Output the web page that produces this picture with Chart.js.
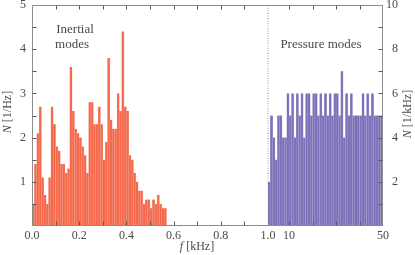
<!DOCTYPE html>
<html>
<head>
<meta charset="utf-8">
<script src="https://cdn.jsdelivr.net/npm/chart.js@4.4.0/dist/chart.umd.min.js"></script>
<style>
  html, body { margin: 0; padding: 0; background: #fff; }
  #wrap { position: relative; width: 415px; height: 255px; }
  #wrap canvas { position: absolute; left: 0; top: 0; }
</style>
</head>
<body>
<div id="wrap">
  <canvas id="inertial" width="415" height="255"></canvas>
  <canvas id="pressure" width="415" height="255"></canvas>
</div>
<script>
// inertial modes: N [1/Hz] in 0.01 kHz bins from 0 kHz
const inertialStart = 0;
const inertialWidth = 0.01;
const inertialN = [
  0.5, 1.4, 2.1, 2.7, 1.1, 0.7, 0.5, 1.1, 2.7, 2.3,
  1.8, 1.7, 1.4, 1.4, 1.2, 1.3, 3.6, 2.6, 2.2, 2.1,
  2.0, 1.8, 1.6, 1.2, 2.8, 2.8, 2.3, 2.3, 2.7, 2.3,
  1.5, 1.9, 3.8, 2.4, 2.2, 2.2, 3.0, 2.6, 4.4, 2.7,
  2.6, 1.6, 1.5, 1.2, 1.0, 0.8, 0.8, 0.5, 0.6, 0.6,
  0.4, 0.6, 0.5, 0.7, 0.5, 0.4, 0.4
];

// pressure modes: N [1/kHz] in 1 kHz bins from 1 kHz
const pressureStart = 1;
const pressureWidth = 1;
const pressureN = [
  2, 5, 4, 3, 5, 5, 4, 4, 6, 5,
  6, 4, 6, 5, 6, 4, 6, 6, 5, 6,
  6, 5, 6, 5, 6, 5, 6, 5, 6, 6,
  5, 7, 4, 6, 5, 6, 5, 5, 5, 5,
  6, 5, 6, 5, 6, 5, 5, 5, 5
];

// axis ticks and labels
const leftXTicks = [0, 0.1, 0.2, 0.3, 0.4, 0.5, 0.6, 0.7, 0.8, 0.9, 1.0];
const leftXLabels = ['0.0', '', '0.2', '', '0.4', '', '0.6', '', '0.8', '', '1.0'];
const leftYTicks = [0, 0.5, 1, 1.5, 2, 2.5, 3, 3.5, 4, 4.5, 5];
const leftYLabels = ['', '', '1', '', '2', '', '3', '', '4', '', '5'];
const rightXTicks = [10, 20, 30, 40, 50];
const rightXLabels = ['10', '', '', '', '50'];
const rightYTicks = [0, 1, 2, 3, 4, 5, 6, 7, 8, 9, 10];
const rightYLabels = ['', '', '2', '', '4', '', '6', '', '8', '', '10'];

const SERIF = '"Liberation Serif", "DejaVu Serif", serif';
const AXIS = '#8c8c8c';
const TICK = '#5a5a5a';
const TEXT = '#4a4a4a';

function fixTicks(values) {
  return scale => { scale.ticks = values.map(v => ({ value: v })); };
}
function fixSize(prop, size) {
  return scale => {
    scale[prop] = size;
    scale.paddingTop = 0; scale.paddingBottom = 0;
    scale.paddingLeft = 0; scale.paddingRight = 0;
  };
}

// draws a string made of plain and italic parts, centred on (x, y)
function drawParts(ctx, parts, x, y, rot) {
  ctx.save();
  ctx.translate(x, y);
  ctx.rotate(rot || 0);
  ctx.textBaseline = 'middle';
  ctx.fillStyle = TEXT;
  let total = 0;
  parts.forEach(p => {
    ctx.font = (p.it ? 'italic ' : '') + p.size + 'px ' + SERIF;
    total += ctx.measureText(p.t).width;
  });
  let cx = -total / 2;
  parts.forEach(p => {
    ctx.font = (p.it ? 'italic ' : '') + p.size + 'px ' + SERIF;
    ctx.textAlign = 'left';
    ctx.fillText(p.t, cx, 0);
    cx += ctx.measureText(p.t).width;
  });
  ctx.restore();
}

// frame, inward tick marks, titles and notes
const decor = {
  id: 'decor',
  afterDatasetsDraw(chart, args, o) {
    const { ctx, chartArea: a } = chart;
    const xs = chart.scales.x, ys = chart.scales.y;
    const L = Math.round(a.left) + 0.5, R = Math.round(a.right) - 0.5;
    const T = Math.round(a.top) + 0.5, B = Math.round(a.bottom) - 0.5;
    ctx.save();
    ctx.lineWidth = 1;
    ctx.strokeStyle = AXIS;
    ctx.beginPath();
    ctx.moveTo(o.leftEdge ? L : L - 0.5, T); ctx.lineTo(R + 0.5, T);
    ctx.moveTo(o.leftEdge ? L : L - 0.5, B); ctx.lineTo(R + 0.5, B);
    if (o.leftEdge) { ctx.moveTo(L, T); ctx.lineTo(L, B); }
    if (o.rightEdge) { ctx.moveTo(R, T); ctx.lineTo(R, B); }
    ctx.stroke();
    if (o.dotted) {
      ctx.setLineDash([1, 1.5]);
      ctx.strokeStyle = '#9a9a9a';
      ctx.beginPath();
      ctx.moveTo(R + 0.5, T); ctx.lineTo(R + 0.5, B);
      ctx.stroke();
      ctx.setLineDash([]);
    }
    ctx.strokeStyle = TICK;
    ctx.beginPath();
    xs.ticks.forEach(t => {
      if (t.value <= xs.min || t.value >= xs.max) return;
      const px = Math.round(xs.getPixelForValue(t.value)) + 0.5;
      ctx.moveTo(px, B); ctx.lineTo(px, B - 4);
      ctx.moveTo(px, T); ctx.lineTo(px, T + 4);
    });
    ys.ticks.forEach(t => {
      if (t.value <= ys.min || t.value >= ys.max) return;
      const py = Math.round(ys.getPixelForValue(t.value)) + 0.5;
      if (o.leftEdge) { ctx.moveTo(L, py); ctx.lineTo(L + 4, py); }
      if (o.rightEdge) { ctx.moveTo(R, py); ctx.lineTo(R - 4, py); }
    });
    ctx.stroke();
    ctx.restore();
    (o.texts || []).forEach(t => drawParts(ctx, t.parts, t.x, t.y, t.rot));
  }
};

function makeChart(id, counts, start, width, color, edge, cfg) {
  const points = counts.map((n, i) => ({ x: start + (i + 0.5) * width, y: n }));
  return new Chart(document.getElementById(id), {
    type: 'bar',
    data: {
      datasets: [{
        data: points,
        backgroundColor: color,
        borderColor: edge,
        borderWidth: { left: 0.5, right: 0.5, top: 0, bottom: 0 },
        borderSkipped: false,
        barPercentage: 1,
        categoryPercentage: 1
      }]
    },
    options: {
      responsive: false,
      animation: false,
      events: [],
      layout: { padding: cfg.padding },
      plugins: { legend: { display: false }, tooltip: { enabled: false }, decor: cfg.decor },
      scales: {
        x: {
          type: 'linear', offset: false, min: cfg.xMin, max: cfg.xMax,
          afterBuildTicks: fixTicks(cfg.xTicks),
          afterFit: fixSize('height', 29),
          grid: { display: false, drawTicks: false },
          border: { display: false },
          ticks: {
            autoSkip: false, maxRotation: 0, padding: 3, color: TEXT,
            font: { family: SERIF, size: 12 },
            callback: (v, i) => cfg.xLabels[i]
          }
        },
        y: {
          type: 'linear', position: cfg.yPos, min: cfg.yMin, max: cfg.yMax,
          afterBuildTicks: fixTicks(cfg.yTicks),
          afterFit: fixSize('width', cfg.yWidth),
          grid: { display: false, drawTicks: false },
          border: { display: false },
          ticks: {
            autoSkip: false, padding: cfg.yPad, color: TEXT, crossAlign: cfg.yAlign,
            font: { family: SERIF, size: 12 },
            callback: (v, i) => cfg.yLabels[i]
          }
        }
      }
    },
    plugins: [decor]
  });
}

makeChart('inertial', inertialN, inertialStart, inertialWidth, '#f4694c', '#f8a28f', {
  padding: { left: 0, top: 5, right: 147, bottom: 0 },
  xMin: 0, xMax: 1.0, xTicks: leftXTicks, xLabels: leftXLabels,
  yMin: 0, yMax: 5, yTicks: leftYTicks, yLabels: leftYLabels,
  yPos: 'left', yPad: 6, yAlign: 'near', yWidth: 32,
  decor: {
    leftEdge: true, rightEdge: false, dotted: true,
    texts: [
      { parts: [{ t: 'N', it: true, size: 12 }, { t: ' [1/Hz]', size: 12 }], x: 8, y: 112, rot: -Math.PI / 2 },
      { parts: [{ t: 'f', it: true, size: 12 }, { t: ' [kHz]', size: 12 }], x: 197, y: 247 },
      { parts: [{ t: 'Inertial', size: 13 }], x: 75, y: 30 },
      { parts: [{ t: 'modes', size: 13 }], x: 72, y: 45 }
    ]
  }
});

// right axis labels end at x = 398, so the axis box stops there
makeChart('pressure', pressureN, pressureStart, pressureWidth, '#7b71b7', '#aaa3d6', {
  padding: { left: 268, top: 5, right: 17, bottom: 0 },
  xMin: 1, xMax: 50, xTicks: rightXTicks, xLabels: rightXLabels,
  yMin: 0, yMax: 10, yTicks: rightYTicks, yLabels: rightYLabels,
  yPos: 'right', yPad: 3, yAlign: 'far', yWidth: 15,
  decor: {
    leftEdge: false, rightEdge: true, dotted: false,
    texts: [
      { parts: [{ t: 'N', it: true, size: 12 }, { t: ' [1/kHz]', size: 12 }], x: 408, y: 114, rot: -Math.PI / 2 },
      { parts: [{ t: 'Pressure modes', size: 13 }], x: 321, y: 45 }
    ]
  }
});
</script>
</body>
</html>
